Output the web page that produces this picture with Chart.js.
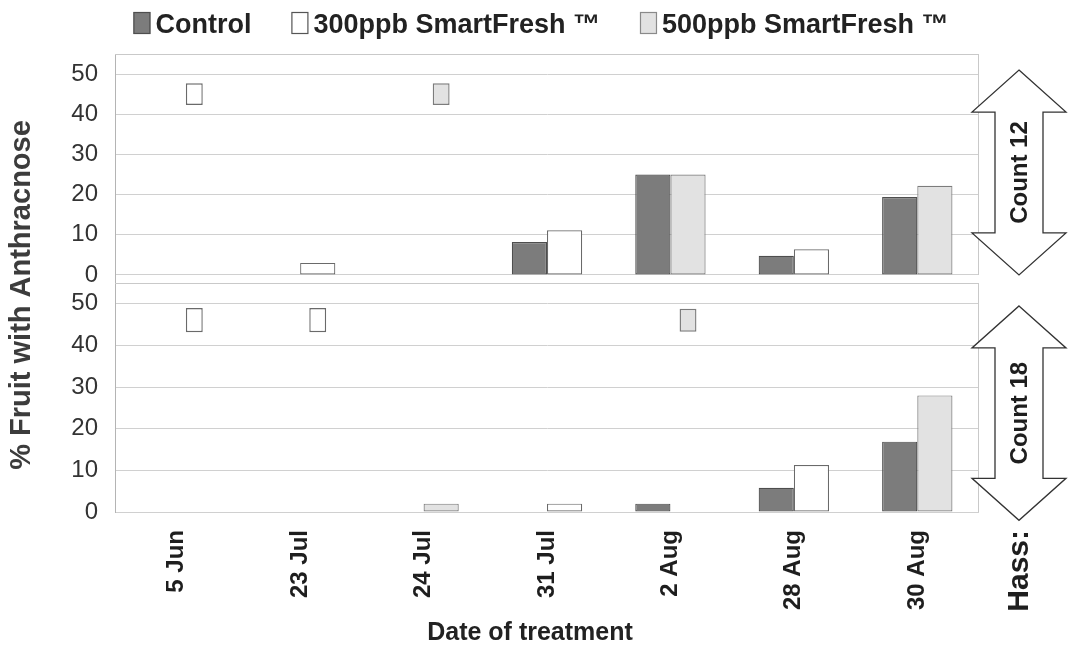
<!DOCTYPE html>
<html>
<head>
<meta charset="utf-8">
<script src="https://cdn.jsdelivr.net/npm/chart.js@4"></script>
<style>
  html, body { margin: 0; padding: 0; background: #ffffff; }
  #wrap { position: relative; width: 1076px; height: 650px; }
</style>
</head>
<body>
<div id="wrap"><canvas id="chart" width="1076" height="650"></canvas></div>
<script>
// Treatment dates and the SmartFresh rate (ppb) applied on each date
const dates = ['5 Jun', '23 Jul', '24 Jul', '31 Jul', '2 Aug', '28 Aug', '30 Aug'];
const treatmentRate = ['300', '300', '500', '300', '500', '300', '500'];

// % fruit with anthracnose, fruit count 12
const count12Control = [0, 0, 0, 8.2, 25, 4.8, 19.4];
const count12Treated = [0, 3, 0, 11.1, 25, 6.4, 22.2];
// rate key shown where the treated result is zero
const count12RateKey = [[42.3, 47.7], null, [42.3, 47.7], null, null, null, null];

// % fruit with anthracnose, fruit count 18
const count18Control = [0, 0, 0, 0, 2, 5.8, 16.9];
const count18Treated = [0, 0, 2, 2, 0, 11.3, 28];
const count18RateKey = [[43.2, 49], [43.2, 49], null, null, [43.3, 48.8], null, null];

const yTicks = [0, 10, 20, 30, 40, 50];
const seriesNames = ['Control', '300ppb SmartFresh \u2122', '500ppb SmartFresh \u2122'];
const panelLabels = ['Count 12', 'Count 18'];
const cultivarLabel = 'Hass:';
const yTitle = '% Fruit with Anthracnose';
const xTitle = 'Date of treatment';

const FONT = "'Liberation Sans', Arial, Helvetica, sans-serif";
const CONTROL_FILL = '#7c7c7c', CONTROL_EDGE = '#4e4e4e';
const RATE_FILL = { '300': '#ffffff', '500': '#e2e2e2' };
const RATE_EDGE = { '300': '#6a6a6a', '500': '#7c7c7c' };
const GRID = '#d0d0d0';
const CAT_PCT = 0.57;

function panelDatasets(axisId, control, treated, rateKey) {
  return [
    {
      label: 'Control', data: control, yAxisID: axisId, stack: 'control',
      backgroundColor: CONTROL_FILL, borderColor: CONTROL_EDGE, borderWidth: 1.2,
      borderSkipped: false, categoryPercentage: CAT_PCT, barPercentage: 1
    },
    {
      label: 'SmartFresh', data: treated, yAxisID: axisId, stack: 'treated',
      backgroundColor: treatmentRate.map(r => RATE_FILL[r]),
      borderColor: treatmentRate.map(r => RATE_EDGE[r]), borderWidth: 1.2,
      borderSkipped: false, categoryPercentage: CAT_PCT, barPercentage: 1
    },
    {
      label: 'Rate', data: rateKey, yAxisID: axisId, stack: 'treated',
      backgroundColor: treatmentRate.map(r => RATE_FILL[r]),
      borderColor: treatmentRate.map(r => RATE_EDGE[r]), borderWidth: 1.4,
      borderSkipped: false, categoryPercentage: CAT_PCT, barPercentage: 0.48
    }
  ];
}

function yAxis(min) {
  return {
    type: 'linear', position: 'left', stack: 'panels', stackWeight: 1,
    min: min, max: 55,
    afterBuildTicks: s => { s.ticks = yTicks.map(v => ({ value: v })); },
    afterFit: s => { s.width = 115; },
    ticks: { autoSkip: false, padding: 17, color: '#333333', font: { family: FONT, size: 24 } },
    grid: { color: GRID, lineWidth: 1, drawTicks: false },
    border: { display: true, color: '#b4b4b4', width: 1 }
  };
}

function doubleArrow(ctx, cx, yTopTip, yBotTip) {
  const headH = 42, headHalf = 47, shaftHalf = 24;
  ctx.beginPath();
  ctx.moveTo(cx, yTopTip);
  ctx.lineTo(cx + headHalf, yTopTip + headH);
  ctx.lineTo(cx + shaftHalf, yTopTip + headH);
  ctx.lineTo(cx + shaftHalf, yBotTip - headH);
  ctx.lineTo(cx + headHalf, yBotTip - headH);
  ctx.lineTo(cx, yBotTip);
  ctx.lineTo(cx - headHalf, yBotTip - headH);
  ctx.lineTo(cx - shaftHalf, yBotTip - headH);
  ctx.lineTo(cx - shaftHalf, yTopTip + headH);
  ctx.lineTo(cx - headHalf, yTopTip + headH);
  ctx.closePath();
  ctx.fillStyle = '#ffffff';
  ctx.fill();
  ctx.lineWidth = 1.3;
  ctx.strokeStyle = '#333333';
  ctx.stroke();
}

function verticalText(ctx, text, x, y, font, color, align) {
  ctx.save();
  ctx.translate(x, y);
  ctx.rotate(-Math.PI / 2);
  ctx.font = font;
  ctx.fillStyle = color;
  ctx.textAlign = align || 'center';
  ctx.textBaseline = 'middle';
  ctx.fillText(text, 0, 0);
  ctx.restore();
}

// Panel frames, count arrows, legend and titles drawn around the bar panels
const decorations = {
  id: 'decorations',
  beforeDatasetsDraw(chart) {
    const ctx = chart.ctx, area = chart.chartArea;
    ctx.save();
    ctx.strokeStyle = '#c9c9c9';
    ctx.lineWidth = 1;
    ['yTop', 'yBot'].forEach(id => {
      const s = chart.scales[id];
      const bottom = s.getPixelForValue(0);
      ctx.beginPath();
      ctx.moveTo(area.left, s.top + 0.5);
      ctx.lineTo(area.right, s.top + 0.5);
      ctx.moveTo(area.right - 0.5, s.top);
      ctx.lineTo(area.right - 0.5, bottom);
      ctx.stroke();
    });
    ctx.restore();
  },
  afterDraw(chart) {
    const ctx = chart.ctx, area = chart.chartArea;
    const yT = chart.scales.yTop, yB = chart.scales.yBot, x = chart.scales.x;
    ctx.save();

    // double arrows marking each fruit-count panel
    const cx = area.right + 40;
    const spans = [[yT.getPixelForValue(51), yT.getPixelForValue(0)],
                   [yB.getPixelForValue(49.5), yB.getPixelForValue(-2)]];
    spans.forEach((sp, i) => {
      doubleArrow(ctx, cx, sp[0], sp[1]);
      verticalText(ctx, panelLabels[i], cx + 1, (sp[0] + sp[1]) / 2,
        'bold 24px ' + FONT, '#1e1e1e');
    });

    // cultivar name beside the date labels
    verticalText(ctx, cultivarLabel, cx + 1, x.top + 18, 'bold 30px ' + FONT, '#1e1e1e', 'right');

    // axis titles
    verticalText(ctx, yTitle, 22, 295, 'bold 29px ' + FONT, '#3c3c3c');
    ctx.font = 'bold 25px ' + FONT;
    ctx.fillStyle = '#222222';
    ctx.textAlign = 'center';
    ctx.textBaseline = 'middle';
    ctx.fillText(xTitle, 530, 633);

    // legend
    const fills = [CONTROL_FILL, RATE_FILL['300'], RATE_FILL['500']];
    const edges = [CONTROL_EDGE, '#555555', '#8a8a8a'];
    const boxW = 17, boxH = 22, boxGap = 5, itemGap = 40;
    ctx.font = 'bold 27px ' + FONT;
    const widths = seriesNames.map(t => ctx.measureText(t).width);
    const total = widths.reduce((a, w) => a + boxW + boxGap + w, 0) + itemGap * (seriesNames.length - 1);
    let lx = 541 - total / 2;
    seriesNames.forEach((name, i) => {
      ctx.fillStyle = fills[i];
      ctx.fillRect(lx, 12, boxW, boxH);
      ctx.strokeStyle = edges[i];
      ctx.lineWidth = 1.2;
      ctx.strokeRect(lx + 0.5, 12.5, boxW - 1, boxH - 1);
      ctx.fillStyle = '#222222';
      ctx.textAlign = 'left';
      ctx.textBaseline = 'alphabetic';
      ctx.fillText(name, lx + boxW + boxGap, 33);
      lx += boxW + boxGap + widths[i] + itemGap;
    });
    ctx.restore();
  }
};

new Chart(document.getElementById('chart'), {
  type: 'bar',
  data: {
    labels: dates,
    datasets: [
      ...panelDatasets('yTop', count12Control, count12Treated, count12RateKey),
      ...panelDatasets('yBot', count18Control, count18Treated, count18RateKey)
    ]
  },
  options: {
    responsive: false,
    animation: false,
    devicePixelRatio: 1,
    layout: { padding: { top: 54, right: 97, bottom: 0, left: 0 } },
    plugins: { legend: { display: false }, tooltip: { enabled: false } },
    scales: {
      x: {
        type: 'category', offset: true,
        grid: { display: false, drawTicks: false },
        border: { display: false },
        ticks: {
          minRotation: 90, maxRotation: 90, autoSkip: false, padding: 18,
          color: '#1e1e1e', font: { family: FONT, size: 24, weight: 'bold' }
        },
        afterFit: s => { s.height = 138; }
      },
      yBot: yAxis(0),
      yTop: yAxis(-2)
    }
  },
  plugins: [decorations]
});
</script>
</body>
</html>
